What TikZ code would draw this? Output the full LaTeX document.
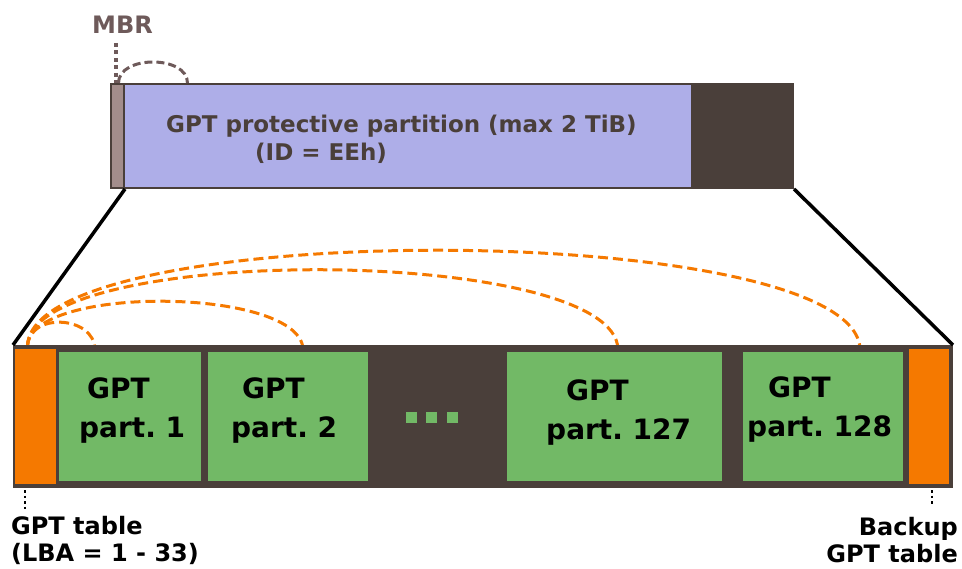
\documentclass[tikz,border=0pt]{standalone}
\usepackage{fontspec}
\setmainfont{DejaVu Sans}
\usetikzlibrary{positioning}
\pgfdeclarelayer{bg}
\pgfsetlayers{bg,main}
\frenchspacing

\definecolor{darkseg}{HTML}{4A3F3A}
\definecolor{protblue}{HTML}{AEAEE8}
\definecolor{mbrgray}{HTML}{A38D8B}
\definecolor{tblorange}{HTML}{F57900}
\definecolor{partgreen}{HTML}{72B966}
\definecolor{mbrtext}{HTML}{6E5A5A}

\tikzset{
  seg/.style={draw=darkseg, line width=2pt, inner sep=0pt},
  partbox/.style={seg, fill=partgreen, minimum height=131pt},
  tablebox/.style={seg, fill=tblorange, minimum height=137pt},
  partlbl/.style={anchor=north west, inner sep=0pt, align=left, font=\bfseries\fontsize{28}{39}\selectfont},
  notelbl/.style={inner sep=0pt, font=\bfseries\fontsize{24}{27}\selectfont},
  link/.style={tblorange, line width=3pt, dash pattern=on 10pt off 5pt},
  zoomline/.style={black, line width=3.5pt},
  tick/.style={black, line width=2.5pt, dash pattern=on 2.5pt off 3pt}
}

\begin{document}
\begin{tikzpicture}[x=1pt,y=-1pt]
\useasboundingbox (0,0) rectangle (962,569);

% protective MBR view
\node[seg, fill=darkseg, minimum width=682pt, minimum height=104pt] (mbrdisk) at (452,136) {};
\node[seg, fill=mbrgray, minimum width=13pt, minimum height=104pt] (mbr) at (117.5,136) {};
\node[seg, fill=protblue, minimum width=568pt, minimum height=104pt] (prot) at (408,136) {};
\node[anchor=north west, inner sep=0pt, align=left, text=darkseg,
      font=\bfseries\fontsize{23}{28}\selectfont] (protlbl) at (166,115)
      {GPT protective partition (max 2 TiB)\\\hspace*{89pt}(ID = EEh)};

\node[notelbl, anchor=north west, text=mbrtext] (mbrlbl) at (92,16) {MBR};
\draw[mbrtext, line width=4pt, dash pattern=on 4pt off 3.5pt] (116,43) -- (mbr.north west -| 116,0);
\draw[mbrtext, line width=3pt, dash pattern=on 8pt off 4pt]
  ([xshift=1pt]mbr.north) .. controls +(0,-28) and +(0,-28) .. ([xshift=70pt]mbr.north);

% GPT disk view
\node[seg, fill=darkseg, minimum width=938pt, minimum height=141pt] (gptdisk) at (483,416.5) {};
\node[tablebox, minimum width=43pt] (tbl) at (35.5,416.5) {};
\node[partbox, minimum width=144pt] (p1) at (130,416.5) {};
\node[partbox, minimum width=162pt] (p2) at (288,416.5) {};
\node[partbox, minimum width=217pt] (p127) at (614.5,416.5) {};
\node[partbox, minimum width=162pt] (p128) at (823,416.5) {};
\node[tablebox, minimum width=42pt] (bak) at (929,416.5) {};

\foreach \x in {411,431,452}
  \fill[partgreen] (\x-5.5,412) rectangle ++(11,11);

\node[partlbl] (l1) at (79,378) {\hspace*{8pt}GPT\\part. 1};
\node[partlbl] (l2) at (231,378) {\hspace*{11pt}GPT\\part. 2};
\node[partlbl] (l127) at (546,380) {\hspace*{20pt}GPT\\part. 127};
\node[partlbl] (l128) at (747,377) {\hspace*{21pt}GPT\\part. 128};

% zoom lines
\draw[zoomline] (mbr.south east) -- (gptdisk.north west);
\draw[zoomline] (mbrdisk.south east) -- (gptdisk.north east);

% table -> partition links
\begin{pgfonlayer}{bg}
\draw[link] ([xshift=-8pt]tbl.north) .. controls +(0,-35) and +(0,-35) .. ([xshift=-35pt]p1.north);
\draw[link] ([xshift=-8pt]tbl.north) .. controls +(0,-63) and +(0,-63) .. ([xshift=15pt]p2.north);
\draw[link] ([xshift=-8pt]tbl.north) .. controls +(0,-105) and +(0,-105) .. ([xshift=3.5pt]p127.north);
\draw[link] ([xshift=-8pt]tbl.north) .. controls +(0,-131) and +(0,-131) .. ([xshift=37pt]p128.north);
\end{pgfonlayer}

% notes below
\draw[tick] ([xshift=-10.5pt,yshift=-4pt]tbl.south) -- ++(0,20);
\draw[tick] ([xshift=3pt,yshift=-4pt]bak.south) -- ++(0,16);
\node[notelbl, anchor=north west, align=left] (tbllbl) at (11,516) {GPT table\\(LBA = 1 - 33)};
\node[notelbl, anchor=north east, align=right] (baklbl) at (958,517) {Backup\\GPT table};
\end{tikzpicture}
\end{document}
